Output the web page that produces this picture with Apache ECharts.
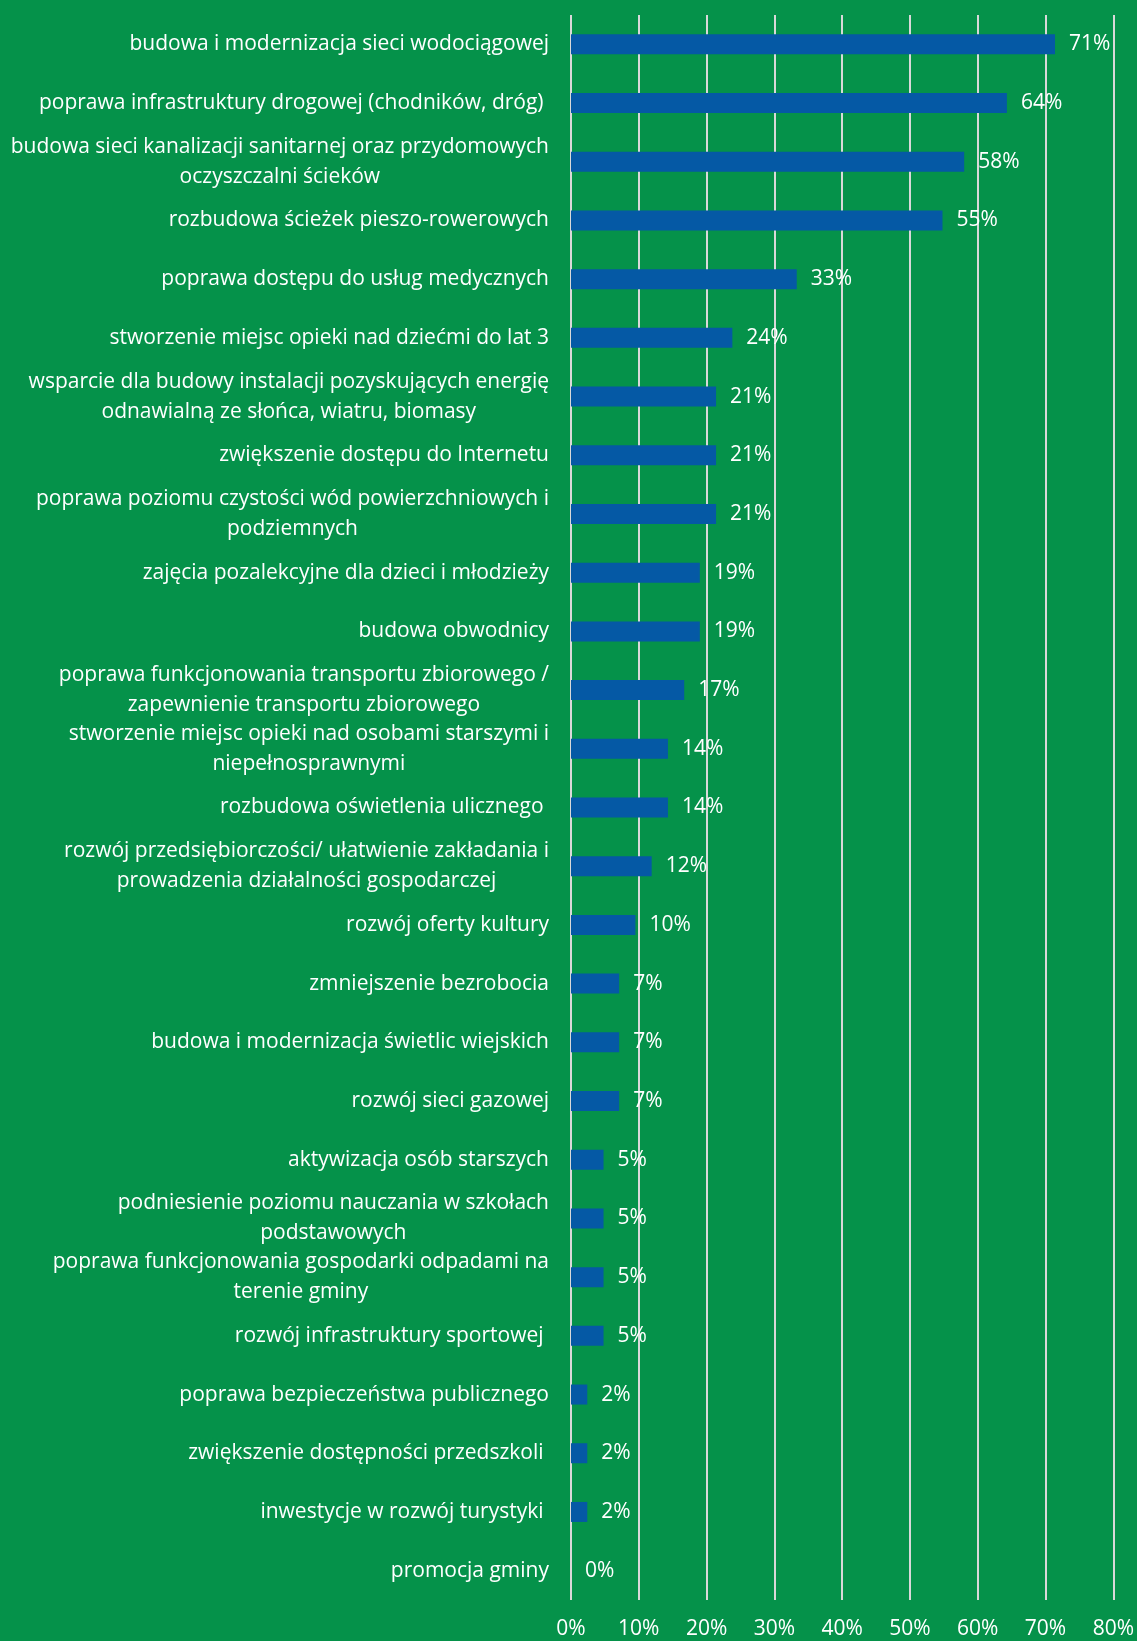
<!DOCTYPE html>
<html>
<head>
<meta charset="utf-8">
<script src="https://cdn.jsdelivr.net/npm/echarts@6/dist/echarts.min.js"></script>
<style>
  html, body { margin: 0; padding: 0; background: #05924A; }
  #chart { width: 1137px; height: 1641px; }
</style>
</head>
<body>
<div id="chart"></div>
<script>
  // kategorie (od góry do dołu)
  const categories = [
    "budowa i modernizacja sieci wodociągowej",
    "poprawa infrastruktury drogowej (chodników, dróg) ",
    "budowa sieci kanalizacji sanitarnej oraz przydomowych\noczyszczalni ścieków",
    "rozbudowa ścieżek pieszo-rowerowych",
    "poprawa dostępu do usług medycznych",
    "stworzenie miejsc opieki nad dziećmi do lat 3",
    "wsparcie dla budowy instalacji pozyskujących energię\nodnawialną ze słońca, wiatru, biomasy",
    "zwiększenie dostępu do Internetu",
    "poprawa poziomu czystości wód powierzchniowych i\npodziemnych",
    "zajęcia pozalekcyjne dla dzieci i młodzieży",
    "budowa obwodnicy",
    "poprawa funkcjonowania transportu zbiorowego /\nzapewnienie transportu zbiorowego",
    "stworzenie miejsc opieki nad osobami starszymi i\nniepełnosprawnymi",
    "rozbudowa oświetlenia ulicznego ",
    "rozwój przedsiębiorczości/ ułatwienie zakładania i\nprowadzenia działalności gospodarczej",
    "rozwój oferty kultury",
    "zmniejszenie bezrobocia",
    "budowa i modernizacja świetlic wiejskich",
    "rozwój sieci gazowej",
    "aktywizacja osób starszych",
    "podniesienie poziomu nauczania w szkołach\npodstawowych",
    "poprawa funkcjonowania gospodarki odpadami na\nterenie gminy",
    "rozwój infrastruktury sportowej ",
    "poprawa bezpieczeństwa publicznego",
    "zwiększenie dostępności przedszkoli ",
    "inwestycje w rozwój turystyki ",
    "promocja gminy"
  ];

  // odsetek wskazań (%)
  const values = [
    71.4, 64.3, 58.0, 54.8, 33.3, 23.8, 21.4, 21.4, 21.4, 19.0,
    19.0, 16.7, 14.3, 14.3, 11.9, 9.5, 7.1, 7.1, 7.1, 4.8,
    4.8, 4.8, 4.8, 2.4, 2.4, 2.4, 0
  ];

  const axisMax = 80;
  const axisStep = 10;

  const chart = echarts.init(document.getElementById("chart"));

  const fontFamily = "'Open Sans', Lato, sans-serif";
  const fontSize = 21;

  const option = {
    backgroundColor: "#05924A",
    animation: false,
    grid: {
      left: 571,
      right: 23,
      top: 15,
      bottom: 41
    },
    xAxis: {
      type: "value",
      min: 0,
      max: axisMax,
      interval: axisStep,
      axisLine: { show: false },
      axisTick: { show: false },
      splitLine: {
        show: true,
        lineStyle: { color: "#D9D9D9", width: 2 }
      },
      axisLabel: {
        color: "#ffffff",
        fontSize: fontSize,
        fontFamily: fontFamily,
        margin: 19,
        formatter: v => v + "%"
      }
    },
    yAxis: {
      type: "category",
      inverse: true,
      data: categories,
      axisLine: { show: false },
      axisTick: { show: false },
      axisLabel: {
        color: "#ffffff",
        fontSize: fontSize,
        fontFamily: fontFamily,
        margin: 22,
        align: "right",
        formatter: v => "{c|" + v + "}",
        rich: {
          c: {
            align: "center",
            color: "#ffffff",
            fontSize: fontSize,
            fontFamily: fontFamily,
            lineHeight: 30
          }
        }
      }
    },
    series: [
      {
        type: "bar",
        data: values,
        barWidth: 20,
        itemStyle: { color: "#0559A5" },
        label: {
          show: true,
          position: "right",
          distance: 14,
          color: "#ffffff",
          fontSize: fontSize,
          fontFamily: fontFamily,
          formatter: p => Math.round(p.value) + "%"
        }
      }
    ]
  };

  chart.setOption(option);
</script>
</body>
</html>
